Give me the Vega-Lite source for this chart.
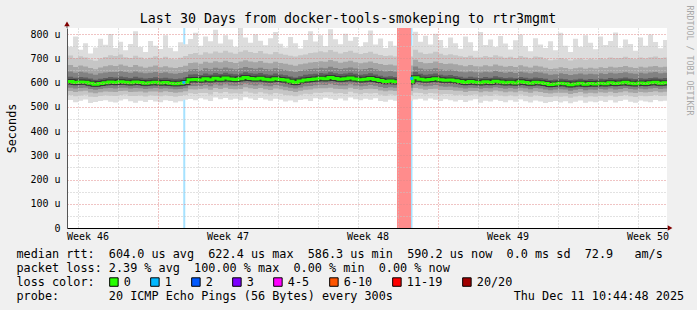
{
 "$schema": "https://vega.github.io/schema/vega-lite/v6.json",
 "width": 600,
 "height": 200,
 "autosize": {"type": "none"},
 "padding": {"left": 67, "top": 28, "right": 30, "bottom": 82},
 "background": "#f0f0f0",
 "title": {"text": "Last 30 Days from docker-tools-smokeping to rtr3mgmt", "font": "DejaVu Sans Mono", "fontSize": 13.3, "fontWeight": "normal", "color": "#000000", "anchor": "middle", "frame": "group", "dx": -19, "dy": 22, "offset": 2},
 "config": {
  "view": {"stroke": null, "fill": "#ffffff"},
  "axis": {"labelFont": "DejaVu Sans Mono", "labelFontSize": 10, "labelColor": "#000000", "titleFont": "DejaVu Sans Mono", "titleFontWeight": "normal", "titleColor": "#000000", "domainColor": "#333333", "gridDash": [1, 2], "labelOverlap": false, "labelSeparation": -200}
 },
 "datasets": {
  "loss": [
   {"start": "2025-11-17T06:15:00Z", "end": "2025-11-17T08:40:00Z", "loss": "1"},
   {"start": "2025-11-27T22:44:00Z", "end": "2025-11-28T15:33:00Z", "loss": "20/20"},
   {"start": "2025-11-28T15:33:00Z", "end": "2025-11-28T17:20:00Z", "loss": "1"}
  ],
  "dots": [
   {"t": "2025-11-17T07:00:00Z", "v": 600, "loss": "1"},
   {"t": "2025-11-28T16:30:00Z", "v": 617, "loss": "1"}
  ],
  "weeks": [
   {"t": "2025-11-12T12:00:00Z", "w": "Week 46"},
   {"t": "2025-11-19T12:00:00Z", "w": "Week 47"},
   {"t": "2025-11-26T12:00:00Z", "w": "Week 48"},
   {"t": "2025-12-03T12:00:00Z", "w": "Week 49"},
   {"t": "2025-12-10T12:00:00Z", "w": "Week 50"}
  ],
  "smoke": [
   {"t":"2025-11-11T06:00:00Z","m":603,"a":522,"b":546,"c":563,"d":577,"e":589,"f":622,"g":642,"h":668,"i":706,"j":770},
   {"t":"2025-11-11T12:00:00Z","m":604,"a":528,"b":549,"c":565,"d":579,"e":591,"f":624,"g":646,"h":672,"i":712,"j":748},
   {"t":"2025-11-11T18:00:00Z","m":600,"a":519,"b":543,"c":561,"d":575,"e":588,"f":620,"g":640,"h":664,"i":700,"j":790},
   {"t":"2025-11-12T00:00:00Z","m":602,"a":525,"b":547,"c":564,"d":578,"e":590,"f":623,"g":645,"h":670,"i":708,"j":735},
   {"t":"2025-11-12T06:00:00Z","m":601,"a":530,"b":550,"c":566,"d":579,"e":590,"f":621,"g":641,"h":666,"i":703,"j":762},
   {"t":"2025-11-12T12:00:00Z","m":597,"a":516,"b":541,"c":559,"d":573,"e":585,"f":617,"g":637,"h":660,"i":695,"j":720},
   {"t":"2025-11-12T18:00:00Z","m":593,"a":520,"b":540,"c":556,"d":570,"e":582,"f":612,"g":632,"h":655,"i":690,"j":745},
   {"t":"2025-11-13T00:00:00Z","m":596,"a":524,"b":545,"c":560,"d":573,"e":585,"f":616,"g":638,"h":662,"i":699,"j":781},
   {"t":"2025-11-13T06:00:00Z","m":599,"a":527,"b":548,"c":563,"d":576,"e":588,"f":619,"g":641,"h":667,"i":705,"j":756},
   {"t":"2025-11-13T12:00:00Z","m":602,"a":521,"b":546,"c":562,"d":577,"e":590,"f":623,"g":644,"h":671,"i":713,"j":800},
   {"t":"2025-11-13T18:00:00Z","m":600,"a":518,"b":544,"c":561,"d":575,"e":588,"f":621,"g":643,"h":668,"i":709,"j":742},
   {"t":"2025-11-14T00:00:00Z","m":603,"a":526,"b":549,"c":565,"d":579,"e":591,"f":625,"g":647,"h":674,"i":716,"j":768},
   {"t":"2025-11-14T06:00:00Z","m":601,"a":531,"b":551,"c":566,"d":579,"e":590,"f":622,"g":643,"h":669,"i":704,"j":733},
   {"t":"2025-11-14T12:00:00Z","m":599,"a":523,"b":545,"c":561,"d":575,"e":587,"f":619,"g":640,"h":664,"i":701,"j":759},
   {"t":"2025-11-14T18:00:00Z","m":602,"a":517,"b":544,"c":562,"d":577,"e":590,"f":624,"g":646,"h":672,"i":711,"j":812},
   {"t":"2025-11-15T00:00:00Z","m":600,"a":525,"b":547,"c":563,"d":576,"e":588,"f":620,"g":641,"h":666,"i":703,"j":747},
   {"t":"2025-11-15T06:00:00Z","m":597,"a":520,"b":542,"c":559,"d":573,"e":585,"f":617,"g":638,"h":661,"i":697,"j":726},
   {"t":"2025-11-15T12:00:00Z","m":599,"a":528,"b":548,"c":563,"d":575,"e":587,"f":619,"g":640,"h":665,"i":702,"j":771},
   {"t":"2025-11-15T18:00:00Z","m":601,"a":522,"b":546,"c":563,"d":577,"e":589,"f":622,"g":644,"h":670,"i":708,"j":752},
   {"t":"2025-11-16T00:00:00Z","m":598,"a":519,"b":543,"c":560,"d":574,"e":586,"f":618,"g":639,"h":663,"i":699,"j":738},
   {"t":"2025-11-16T06:00:00Z","m":600,"a":527,"b":548,"c":564,"d":576,"e":588,"f":620,"g":642,"h":667,"i":706,"j":795},
   {"t":"2025-11-16T12:00:00Z","m":597,"a":524,"b":545,"c":561,"d":574,"e":586,"f":617,"g":638,"h":662,"i":698,"j":744},
   {"t":"2025-11-16T18:00:00Z","m":595,"a":518,"b":541,"c":558,"d":572,"e":584,"f":615,"g":636,"h":660,"i":696,"j":729},
   {"t":"2025-11-17T00:00:00Z","m":597,"a":523,"b":544,"c":560,"d":573,"e":585,"f":617,"g":639,"h":664,"i":702,"j":766},
   {"t":"2025-11-17T06:00:00Z","m":600,"a":529,"b":549,"c":564,"d":576,"e":588,"f":621,"g":643,"h":669,"i":710,"j":758},
   {"t":"2025-11-17T12:00:00Z","m":612,"a":532,"b":556,"c":572,"d":586,"e":599,"f":633,"g":654,"h":681,"i":718,"j":780},
   {"t":"2025-11-17T18:00:00Z","m":613,"a":527,"b":553,"c":571,"d":586,"e":600,"f":634,"g":656,"h":683,"i":722,"j":805},
   {"t":"2025-11-18T00:00:00Z","m":611,"a":535,"b":557,"c":573,"d":586,"e":598,"f":631,"g":652,"h":678,"i":715,"j":752},
   {"t":"2025-11-18T06:00:00Z","m":616,"a":530,"b":557,"c":575,"d":590,"e":603,"f":637,"g":659,"h":686,"i":725,"j":790},
   {"t":"2025-11-18T12:00:00Z","m":612,"a":524,"b":551,"c":570,"d":585,"e":599,"f":633,"g":655,"h":682,"i":720,"j":770},
   {"t":"2025-11-18T18:00:00Z","m":618,"a":538,"b":561,"c":578,"d":592,"e":605,"f":639,"g":661,"h":688,"i":728,"j":818},
   {"t":"2025-11-19T00:00:00Z","m":614,"a":531,"b":556,"c":573,"d":588,"e":601,"f":635,"g":657,"h":684,"i":723,"j":761},
   {"t":"2025-11-19T06:00:00Z","m":619,"a":536,"b":561,"c":579,"d":593,"e":606,"f":640,"g":662,"h":690,"i":731,"j":795},
   {"t":"2025-11-19T12:00:00Z","m":615,"a":529,"b":555,"c":573,"d":588,"e":602,"f":636,"g":658,"h":685,"i":724,"j":778},
   {"t":"2025-11-19T18:00:00Z","m":613,"a":533,"b":556,"c":572,"d":587,"e":600,"f":634,"g":655,"h":681,"i":719,"j":748},
   {"t":"2025-11-20T00:00:00Z","m":616,"a":527,"b":554,"c":573,"d":589,"e":603,"f":637,"g":659,"h":687,"i":727,"j":830},
   {"t":"2025-11-20T06:00:00Z","m":621,"a":539,"b":563,"c":581,"d":595,"e":608,"f":642,"g":664,"h":692,"i":733,"j":786},
   {"t":"2025-11-20T12:00:00Z","m":617,"a":534,"b":558,"c":576,"d":591,"e":604,"f":638,"g":660,"h":687,"i":726,"j":764},
   {"t":"2025-11-20T18:00:00Z","m":615,"a":528,"b":554,"c":573,"d":588,"e":602,"f":636,"g":657,"h":684,"i":722,"j":799},
   {"t":"2025-11-21T00:00:00Z","m":618,"a":536,"b":560,"c":577,"d":592,"e":605,"f":639,"g":661,"h":689,"i":730,"j":772},
   {"t":"2025-11-21T06:00:00Z","m":614,"a":530,"b":555,"c":572,"d":587,"e":600,"f":634,"g":656,"h":682,"i":720,"j":754},
   {"t":"2025-11-21T12:00:00Z","m":612,"a":525,"b":551,"c":569,"d":585,"e":598,"f":632,"g":654,"h":680,"i":717,"j":783},
   {"t":"2025-11-21T18:00:00Z","m":616,"a":533,"b":557,"c":575,"d":590,"e":603,"f":637,"g":659,"h":686,"i":726,"j":808},
   {"t":"2025-11-22T00:00:00Z","m":613,"a":529,"b":554,"c":572,"d":587,"e":600,"f":633,"g":655,"h":681,"i":719,"j":760},
   {"t":"2025-11-22T06:00:00Z","m":610,"a":522,"b":549,"c":568,"d":583,"e":596,"f":630,"g":652,"h":678,"i":715,"j":745},
   {"t":"2025-11-22T12:00:00Z","m":605,"a":526,"b":548,"c":565,"d":579,"e":592,"f":625,"g":647,"h":673,"i":711,"j":788},
   {"t":"2025-11-22T18:00:00Z","m":600,"a":519,"b":543,"c":561,"d":575,"e":588,"f":621,"g":643,"h":669,"i":707,"j":762},
   {"t":"2025-11-23T00:00:00Z","m":606,"a":528,"b":550,"c":566,"d":580,"e":593,"f":626,"g":648,"h":675,"i":713,"j":740},
   {"t":"2025-11-23T06:00:00Z","m":611,"a":531,"b":554,"c":570,"d":585,"e":598,"f":632,"g":653,"h":679,"i":716,"j":776},
   {"t":"2025-11-23T12:00:00Z","m":613,"a":524,"b":552,"c":571,"d":586,"e":600,"f":634,"g":656,"h":683,"i":722,"j":812},
   {"t":"2025-11-23T18:00:00Z","m":615,"a":535,"b":558,"c":575,"d":589,"e":602,"f":636,"g":658,"h":685,"i":724,"j":769},
   {"t":"2025-11-24T00:00:00Z","m":618,"a":530,"b":557,"c":576,"d":591,"e":605,"f":639,"g":661,"h":688,"i":729,"j":795},
   {"t":"2025-11-24T06:00:00Z","m":616,"a":537,"b":560,"c":576,"d":590,"e":603,"f":637,"g":659,"h":686,"i":725,"j":751},
   {"t":"2025-11-24T12:00:00Z","m":621,"a":533,"b":560,"c":579,"d":594,"e":608,"f":642,"g":665,"h":693,"i":734,"j":820},
   {"t":"2025-11-24T18:00:00Z","m":617,"a":528,"b":555,"c":574,"d":590,"e":604,"f":638,"g":660,"h":688,"i":727,"j":779},
   {"t":"2025-11-25T00:00:00Z","m":614,"a":534,"b":557,"c":573,"d":588,"e":601,"f":635,"g":656,"h":682,"i":720,"j":758},
   {"t":"2025-11-25T06:00:00Z","m":616,"a":526,"b":553,"c":572,"d":588,"e":602,"f":637,"g":659,"h":686,"i":726,"j":801},
   {"t":"2025-11-25T12:00:00Z","m":619,"a":538,"b":562,"c":579,"d":593,"e":606,"f":640,"g":662,"h":690,"i":731,"j":772},
   {"t":"2025-11-25T18:00:00Z","m":615,"a":531,"b":556,"c":573,"d":588,"e":602,"f":636,"g":658,"h":684,"i":723,"j":788},
   {"t":"2025-11-26T00:00:00Z","m":612,"a":527,"b":552,"c":570,"d":585,"e":598,"f":632,"g":654,"h":680,"i":718,"j":749},
   {"t":"2025-11-26T06:00:00Z","m":614,"a":533,"b":557,"c":573,"d":587,"e":600,"f":634,"g":656,"h":683,"i":722,"j":766},
   {"t":"2025-11-26T12:00:00Z","m":617,"a":529,"b":555,"c":574,"d":590,"e":604,"f":638,"g":660,"h":687,"i":727,"j":815},
   {"t":"2025-11-26T18:00:00Z","m":613,"a":535,"b":557,"c":573,"d":587,"e":600,"f":633,"g":655,"h":681,"i":719,"j":757},
   {"t":"2025-11-27T00:00:00Z","m":608,"a":524,"b":550,"c":567,"d":582,"e":595,"f":628,"g":650,"h":676,"i":714,"j":782},
   {"t":"2025-11-27T06:00:00Z","m":604,"a":521,"b":546,"c":564,"d":578,"e":591,"f":624,"g":646,"h":672,"i":709,"j":743},
   {"t":"2025-11-27T12:00:00Z","m":606,"a":529,"b":551,"c":567,"d":581,"e":593,"f":626,"g":648,"h":674,"i":712,"j":770},
   {"t":"2025-11-27T18:00:00Z","m":603,"a":525,"b":548,"c":565,"d":579,"e":591,"f":623,"g":645,"h":670,"i":707,"j":752},
   {"t":"2025-11-28T00:00:00Z","m":603,"a":525,"b":548,"c":565,"d":579,"e":591,"f":623,"g":645,"h":670,"i":707,"j":752},
   {"t":"2025-11-28T18:00:00Z","m":620,"a":530,"b":558,"c":578,"d":594,"e":608,"f":643,"g":666,"h":694,"i":735,"j":810},
   {"t":"2025-11-29T00:00:00Z","m":614,"a":533,"b":557,"c":574,"d":589,"e":602,"f":636,"g":658,"h":685,"i":724,"j":768},
   {"t":"2025-11-29T06:00:00Z","m":611,"a":526,"b":552,"c":570,"d":585,"e":598,"f":632,"g":654,"h":680,"i":718,"j":793},
   {"t":"2025-11-29T12:00:00Z","m":613,"a":534,"b":557,"c":573,"d":587,"e":600,"f":634,"g":655,"h":681,"i":720,"j":757},
   {"t":"2025-11-29T18:00:00Z","m":616,"a":529,"b":555,"c":574,"d":590,"e":603,"f":637,"g":659,"h":687,"i":727,"j":801},
   {"t":"2025-11-30T00:00:00Z","m":612,"a":524,"b":551,"c":569,"d":585,"e":598,"f":632,"g":654,"h":681,"i":719,"j":775},
   {"t":"2025-11-30T06:00:00Z","m":609,"a":531,"b":553,"c":569,"d":583,"e":596,"f":629,"g":650,"h":676,"i":713,"j":744},
   {"t":"2025-11-30T12:00:00Z","m":611,"a":527,"b":552,"c":569,"d":584,"e":597,"f":631,"g":653,"h":679,"i":717,"j":786},
   {"t":"2025-11-30T18:00:00Z","m":607,"a":522,"b":548,"c":566,"d":581,"e":594,"f":627,"g":649,"h":675,"i":713,"j":762},
   {"t":"2025-12-01T00:00:00Z","m":604,"a":528,"b":550,"c":566,"d":579,"e":591,"f":624,"g":645,"h":671,"i":708,"j":739},
   {"t":"2025-12-01T06:00:00Z","m":600,"a":520,"b":544,"c":561,"d":575,"e":588,"f":620,"g":642,"h":667,"i":705,"j":790},
   {"t":"2025-12-01T12:00:00Z","m":604,"a":526,"b":549,"c":565,"d":579,"e":591,"f":624,"g":646,"h":672,"i":711,"j":766},
   {"t":"2025-12-01T18:00:00Z","m":601,"a":531,"b":551,"c":565,"d":578,"e":589,"f":621,"g":642,"h":667,"i":703,"j":731},
   {"t":"2025-12-02T00:00:00Z","m":599,"a":517,"b":542,"c":560,"d":574,"e":587,"f":619,"g":641,"h":666,"i":704,"j":808},
   {"t":"2025-12-02T06:00:00Z","m":603,"a":525,"b":548,"c":564,"d":578,"e":590,"f":623,"g":645,"h":671,"i":710,"j":755},
   {"t":"2025-12-02T12:00:00Z","m":600,"a":522,"b":545,"c":562,"d":576,"e":588,"f":620,"g":642,"h":667,"i":705,"j":778},
   {"t":"2025-12-02T18:00:00Z","m":605,"a":529,"b":551,"c":567,"d":581,"e":593,"f":626,"g":648,"h":674,"i":713,"j":747},
   {"t":"2025-12-03T00:00:00Z","m":602,"a":524,"b":547,"c":564,"d":578,"e":590,"f":622,"g":644,"h":669,"i":707,"j":792},
   {"t":"2025-12-03T06:00:00Z","m":599,"a":519,"b":543,"c":560,"d":574,"e":587,"f":619,"g":640,"h":665,"i":702,"j":761},
   {"t":"2025-12-03T12:00:00Z","m":601,"a":527,"b":548,"c":563,"d":577,"e":589,"f":621,"g":643,"h":668,"i":706,"j":736},
   {"t":"2025-12-03T18:00:00Z","m":598,"a":521,"b":543,"c":560,"d":574,"e":586,"f":618,"g":639,"h":664,"i":701,"j":774},
   {"t":"2025-12-04T00:00:00Z","m":603,"a":530,"b":551,"c":566,"d":579,"e":591,"f":623,"g":645,"h":671,"i":710,"j":798},
   {"t":"2025-12-04T06:00:00Z","m":600,"a":523,"b":546,"c":562,"d":576,"e":588,"f":620,"g":641,"h":666,"i":704,"j":750},
   {"t":"2025-12-04T12:00:00Z","m":597,"a":518,"b":541,"c":558,"d":572,"e":585,"f":617,"g":638,"h":662,"i":699,"j":729},
   {"t":"2025-12-04T18:00:00Z","m":601,"a":526,"b":548,"c":564,"d":577,"e":589,"f":621,"g":643,"h":669,"i":707,"j":783},
   {"t":"2025-12-05T00:00:00Z","m":599,"a":522,"b":545,"c":561,"d":575,"e":587,"f":619,"g":641,"h":666,"i":705,"j":757},
   {"t":"2025-12-05T06:00:00Z","m":596,"a":516,"b":540,"c":557,"d":571,"e":584,"f":616,"g":637,"h":661,"i":698,"j":742},
   {"t":"2025-12-05T12:00:00Z","m":592,"a":520,"b":540,"c":555,"d":568,"e":580,"f":611,"g":632,"h":656,"i":692,"j":770},
   {"t":"2025-12-05T18:00:00Z","m":594,"a":524,"b":543,"c":558,"d":571,"e":582,"f":613,"g":634,"h":658,"i":695,"j":733},
   {"t":"2025-12-06T00:00:00Z","m":597,"a":518,"b":541,"c":558,"d":572,"e":585,"f":616,"g":638,"h":663,"i":701,"j":805},
   {"t":"2025-12-06T06:00:00Z","m":595,"a":523,"b":543,"c":558,"d":571,"e":583,"f":614,"g":635,"h":660,"i":697,"j":752},
   {"t":"2025-12-06T12:00:00Z","m":591,"a":515,"b":537,"c":553,"d":566,"e":579,"f":610,"g":631,"h":655,"i":691,"j":726},
   {"t":"2025-12-06T18:00:00Z","m":594,"a":521,"b":542,"c":557,"d":570,"e":582,"f":613,"g":634,"h":659,"i":696,"j":781},
   {"t":"2025-12-07T00:00:00Z","m":597,"a":526,"b":546,"c":561,"d":573,"e":585,"f":616,"g":637,"h":662,"i":699,"j":748},
   {"t":"2025-12-07T06:00:00Z","m":593,"a":517,"b":539,"c":555,"d":568,"e":581,"f":612,"g":633,"h":657,"i":694,"j":795},
   {"t":"2025-12-07T12:00:00Z","m":596,"a":522,"b":543,"c":558,"d":571,"e":584,"f":615,"g":636,"h":661,"i":698,"j":764},
   {"t":"2025-12-07T18:00:00Z","m":594,"a":519,"b":541,"c":556,"d":570,"e":582,"f":613,"g":634,"h":658,"i":695,"j":737},
   {"t":"2025-12-08T00:00:00Z","m":597,"a":525,"b":545,"c":560,"d":573,"e":585,"f":616,"g":638,"h":663,"i":701,"j":790},
   {"t":"2025-12-08T06:00:00Z","m":595,"a":520,"b":542,"c":558,"d":571,"e":583,"f":614,"g":635,"h":660,"i":697,"j":755},
   {"t":"2025-12-08T12:00:00Z","m":599,"a":527,"b":547,"c":562,"d":575,"e":587,"f":619,"g":640,"h":665,"i":703,"j":771},
   {"t":"2025-12-08T18:00:00Z","m":596,"a":518,"b":541,"c":557,"d":571,"e":584,"f":616,"g":637,"h":662,"i":700,"j":806},
   {"t":"2025-12-09T00:00:00Z","m":598,"a":524,"b":545,"c":560,"d":573,"e":586,"f":618,"g":639,"h":664,"i":701,"j":744},
   {"t":"2025-12-09T06:00:00Z","m":601,"a":529,"b":549,"c":564,"d":577,"e":589,"f":621,"g":642,"h":668,"i":706,"j":778},
   {"t":"2025-12-09T12:00:00Z","m":597,"a":521,"b":543,"c":559,"d":573,"e":585,"f":617,"g":638,"h":663,"i":700,"j":759},
   {"t":"2025-12-09T18:00:00Z","m":595,"a":517,"b":540,"c":557,"d":571,"e":583,"f":615,"g":636,"h":660,"i":697,"j":731},
   {"t":"2025-12-10T00:00:00Z","m":598,"a":526,"b":546,"c":561,"d":574,"e":586,"f":618,"g":640,"h":665,"i":703,"j":786},
   {"t":"2025-12-10T06:00:00Z","m":596,"a":522,"b":543,"c":559,"d":572,"e":584,"f":616,"g":637,"h":662,"i":699,"j":752},
   {"t":"2025-12-10T12:00:00Z","m":599,"a":519,"b":544,"c":561,"d":575,"e":587,"f":619,"g":641,"h":666,"i":704,"j":798},
   {"t":"2025-12-10T18:00:00Z","m":601,"a":528,"b":549,"c":564,"d":577,"e":589,"f":621,"g":643,"h":668,"i":707,"j":767},
   {"t":"2025-12-11T00:00:00Z","m":597,"a":523,"b":544,"c":560,"d":573,"e":585,"f":617,"g":638,"h":663,"i":701,"j":741},
   {"t":"2025-12-11T06:00:00Z","m":599,"a":525,"b":546,"c":562,"d":575,"e":587,"f":619,"g":640,"h":665,"i":703,"j":775},
   {"t":"2025-12-11T12:00:00Z","m":599,"a":525,"b":546,"c":562,"d":575,"e":587,"f":619,"g":640,"h":665,"i":703,"j":775}
  ]
 },
 "layer": [
  {
   "data": {"name": "loss"},
   "transform": [{"filter": "datum.loss == '1'"}],
   "mark": {"type": "rect", "color": "#a6e2ff"},
   "encoding": {
    "x": {"field": "start", "type": "temporal", "scale": {"type": "utc", "domain": [1762857888000, 1765449888000]}},
    "x2": {"field": "end"}
   }
  },
  {
   "data": {"name": "smoke"},
   "mark": {"type": "area", "interpolate": "step-after", "color": "#dddddd", "opacity": 1, "clip": true},
   "encoding": {
    "x": {"field": "t", "type": "temporal",
     "axis": {
      "zindex": 1,
      "values": [1762905600000, 1762992000000, 1763078400000, 1763164800000, 1763251200000, 1763337600000, 1763424000000, 1763510400000, 1763596800000, 1763683200000, 1763769600000, 1763856000000, 1763942400000, 1764028800000, 1764115200000, 1764201600000, 1764288000000, 1764374400000, 1764460800000, 1764547200000, 1764633600000, 1764720000000, 1764806400000, 1764892800000, 1764979200000, 1765065600000, 1765152000000, 1765238400000, 1765324800000, 1765411200000],
      "labels": false,
      "ticks": false,
      "domainColor": "#000000",
      "gridColor": {"condition": {"test": "(datum.value - 1763251200000) % 604800000 == 0", "value": "#e08888"}, "value": "#c4c4c4"},
      "title": ["median rtt:\u00a0\u00a0604.0 us avg\u00a0\u00a0622.4 us max\u00a0\u00a0586.3 us min\u00a0\u00a0590.2 us now\u00a0\u00a00.0 ms sd\u00a0\u00a072.9\u00a0\u00a0\u00a0am/s", "packet loss: 2.39 % avg\u00a0\u00a0100.00 % max\u00a0\u00a00.00 % min\u00a0\u00a00.00 % now", "loss color:", "probe:\u00a0\u00a0\u00a0\u00a0\u00a0\u00a0\u00a020 ICMP Echo Pings (56 Bytes) every 300s\u00a0\u00a0\u00a0\u00a0\u00a0\u00a0\u00a0\u00a0\u00a0\u00a0\u00a0\u00a0\u00a0\u00a0\u00a0\u00a0\u00a0Thu Dec 11 10:44:48 2025"],
      "titleFontSize": 11.8,
      "titleLineHeight": 14,
      "titleAlign": "left",
      "titleBaseline": "top",
      "titleX": -51,
      "titleY": 20
     }
    },
    "y": {"field": "a", "type": "quantitative", "scale": {"domain": [0, 825], "nice": false},
     "axis": {
      "orient": "left",
      "zindex": 1,
      "values": [0, 50, 100, 150, 200, 250, 300, 350, 400, 450, 500, 550, 600, 650, 700, 750, 800],
      "labelExpr": "datum.value == 0 ? '0' : (datum.value % 100 == 0 ? datum.value + ' u' : '')",
      "ticks": false,
      "labelPadding": 7,
      "domainColor": "#555555",
      "gridColor": {"condition": {"test": "datum.value % 100 == 0", "value": "#e08888"}, "value": "#c4c4c4"},
      "title": "Seconds",
      "titleFontSize": 11.8,
      "titleAngle": -90,
      "titleX": -56,
      "titleY": 100,
      "titleAlign": "center",
      "titleBaseline": "middle"
     }
    },
    "y2": {"field": "j"}
   }
  },
  {
   "data": {"name": "smoke"},
   "mark": {"type": "area", "interpolate": "step-after", "color": "#c6c6c6", "opacity": 1, "clip": true},
   "encoding": {
    "x": {"field": "t", "type": "temporal"},
    "y": {"field": "b", "type": "quantitative", "axis": null},
    "y2": {"field": "i"}
   }
  },
  {
   "data": {"name": "smoke"},
   "mark": {"type": "area", "interpolate": "step-after", "color": "#a5a5a5", "opacity": 1, "clip": true},
   "encoding": {
    "x": {"field": "t", "type": "temporal"},
    "y": {"field": "c", "type": "quantitative", "axis": null},
    "y2": {"field": "h"}
   }
  },
  {
   "data": {"name": "smoke"},
   "mark": {"type": "area", "interpolate": "step-after", "color": "#828282", "opacity": 1, "clip": true},
   "encoding": {
    "x": {"field": "t", "type": "temporal"},
    "y": {"field": "d", "type": "quantitative", "axis": null},
    "y2": {"field": "g"}
   }
  },
  {
   "data": {"name": "smoke"},
   "mark": {"type": "area", "interpolate": "step-after", "color": "#5e5e5e", "opacity": 1, "clip": true},
   "encoding": {
    "x": {"field": "t", "type": "temporal"},
    "y": {"field": "e", "type": "quantitative", "axis": null},
    "y2": {"field": "f"}
   }
  },
  {
   "data": {"name": "smoke"},
   "mark": {"type": "line", "interpolate": "step-after", "color": "#363636", "strokeWidth": 5, "clip": true},
   "encoding": {
    "x": {"field": "t", "type": "temporal"},
    "y": {"field": "m", "type": "quantitative",
     "axis": {"orient": "right", "domain": false, "ticks": false, "labels": false, "grid": false,
      "title": "RRDTOOL / TOBI OETIKER", "titleAngle": 90, "titleX": 21, "titleY": -23, "titleAlign": "left", "titleBaseline": "middle",
      "titleFont": "DejaVu Sans Mono", "titleFontSize": 8.3, "titleFontWeight": "normal", "titleColor": "#a8a8a8"}
    }
   }
  },
  {
   "data": {"name": "smoke"},
   "mark": {"type": "line", "interpolate": "step-after", "color": "#26ff00", "strokeWidth": 3, "clip": true},
   "encoding": {
    "x": {"field": "t", "type": "temporal"},
    "y": {"field": "m", "type": "quantitative", "axis": null}
   }
  },
  {
   "data": {"name": "loss"},
   "transform": [{"filter": "datum.loss == '20/20'"}],
   "mark": {"type": "rect", "color": "#ff8c8c"},
   "encoding": {
    "x": {"field": "start", "type": "temporal"},
    "x2": {"field": "end"}
   }
  },
  {
   "data": {"name": "dots"},
   "mark": {"type": "point", "shape": "square", "filled": true, "size": 9, "opacity": 1},
   "encoding": {
    "x": {"field": "t", "type": "temporal"},
    "y": {"field": "v", "type": "quantitative", "axis": null},
    "color": {"field": "loss", "type": "nominal",
     "scale": {"domain": ["0", "1", "2", "3", "4-5", "6-10", "11-19", "20/20"], "range": ["#26ff00", "#00b8ff", "#0059ff", "#7e00ff", "#ff00ff", "#ff5500", "#ff0000", "#a10000"]},
     "legend": {"orient": "none", "legendX": 41, "legendY": 248, "direction": "horizontal", "title": null,
      "labelFont": "DejaVu Sans Mono", "labelFontSize": 11.8, "labelColor": "#000000",
      "symbolType": "square", "symbolSize": 72, "symbolOpacity": 1, "symbolStrokeColor": "#000000", "symbolStrokeWidth": 1,
      "labelOffset": 4, "columnPadding": 17, "padding": 0}
    }
   }
  },
  {
   "data": {"name": "weeks"},
   "mark": {"type": "text", "font": "DejaVu Sans Mono", "fontSize": 10, "color": "#000000", "align": "center", "baseline": "middle", "clip": false},
   "encoding": {
    "x": {"field": "t", "type": "temporal"},
    "y": {"datum": -39, "type": "quantitative", "axis": null},
    "text": {"field": "w", "type": "nominal"}
   }
  },
  {
   "data": {"values": [{}]},
   "mark": {"type": "rule", "color": "#555555", "clip": false},
   "encoding": {
    "x": {"datum": 1762857888000, "type": "temporal"},
    "y": {"datum": 825, "type": "quantitative", "axis": null},
    "y2": {"datum": 842}
   }
  },
  {
   "data": {"values": [{}]},
   "mark": {"type": "point", "shape": "triangle-up", "filled": true, "size": 30, "color": "#800000", "opacity": 1, "clip": false},
   "encoding": {
    "x": {"datum": 1762857888000, "type": "temporal"},
    "y": {"datum": 842, "type": "quantitative", "axis": null}
   }
  },
  {
   "data": {"values": [{}]},
   "mark": {"type": "point", "shape": "triangle-right", "filled": true, "size": 30, "color": "#800000", "opacity": 1, "clip": false},
   "encoding": {
    "x": {"datum": 1765463000000, "type": "temporal"},
    "y": {"datum": 0, "type": "quantitative", "axis": null}
   }
  }
 ],
 "resolve": {"axis": {"y": "independent"}}
}
